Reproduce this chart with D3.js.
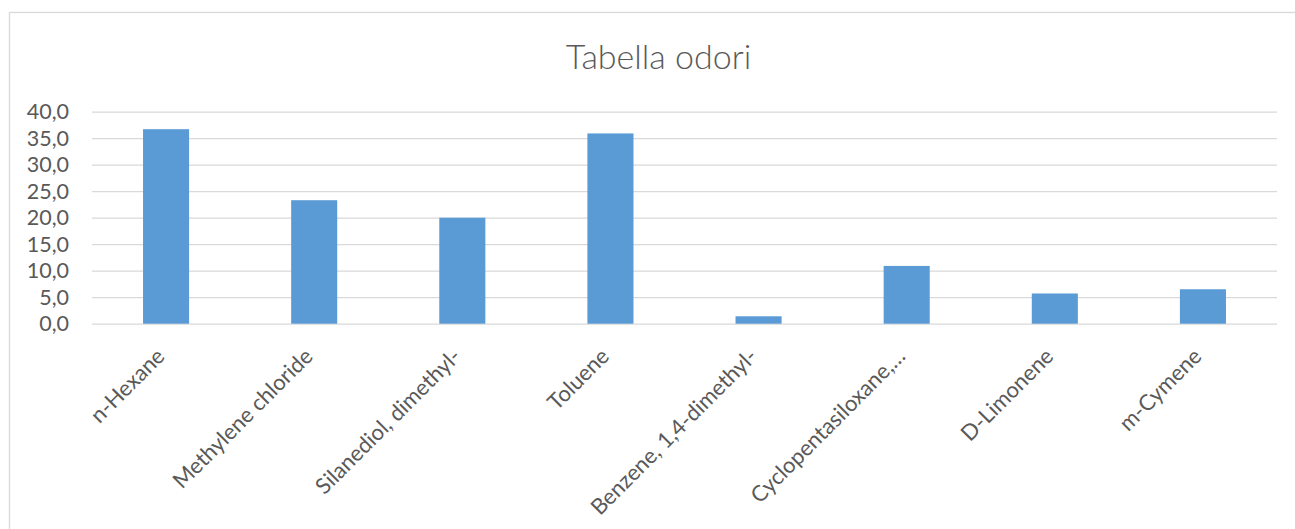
<!DOCTYPE html>
<html>
<head>
<meta charset="utf-8">
<script src="https://cdn.jsdelivr.net/npm/d3@7"></script>
<style>
  html, body { margin: 0; padding: 0; background: #fff; }
  svg { display: block; }
  text { font-family: Lato, "Open Sans", sans-serif; fill: #595959; }
</style>
</head>
<body>
<svg id="chart" width="1295" height="529"></svg>
<script>
// Odour compounds and their measured values
const categories = [
  "n-Hexane",
  "Methylene chloride",
  "Silanediol, dimethyl-",
  "Toluene",
  "Benzene, 1,4-dimethyl-",
  "Cyclopentasiloxane,…",
  "D-Limonene",
  "m-Cymene"
];
const values = [36.7, 23.3, 20.0, 35.9, 1.4, 10.9, 5.7, 6.5];
const yTicks = [0, 5, 10, 15, 20, 25, 30, 35, 40];
const title = "Tabella odori";

const W = 1295, H = 529;
const plot = { left: 92, right: 1277, top: 111.7, bottom: 323.7 };

const svg = d3.select("#chart");

svg.append("rect")
  .attr("width", W).attr("height", H).attr("fill", "#fff");

// chart area frame
svg.append("rect")
  .attr("x", 9.5).attr("y", 12.5)
  .attr("width", W + 10).attr("height", H + 10)
  .attr("fill", "none")
  .attr("stroke", "#D9D9D9")
  .attr("stroke-width", 1.3);

const x = d3.scaleBand()
  .domain(categories)
  .range([plot.left, plot.right])
  .paddingInner(0.689)
  .paddingOuter(0.689 / 2);

const y = d3.scaleLinear()
  .domain([0, 40])
  .range([plot.bottom, plot.top]);

const fmt = v => d3.format(".1f")(v).replace(".", ",");

// horizontal gridlines and value labels
const yAxis = d3.axisLeft(y)
  .tickValues(yTicks)
  .tickSize(-(plot.right - plot.left))
  .tickPadding(23)
  .tickFormat(fmt);

const gy = svg.append("g")
  .attr("transform", `translate(${plot.left},0)`)
  .call(yAxis);
gy.select(".domain").remove();
gy.selectAll(".tick line")
  .attr("stroke", "#D9D9D9")
  .attr("stroke-width", 1.3);
gy.selectAll(".tick text")
  .attr("font-size", 21.5)
  .attr("fill", "#595959")
  .attr("font-family", "Lato, 'Open Sans', sans-serif");

// bars
svg.append("g")
  .selectAll("rect")
  .data(categories.map((c, i) => ({ c, v: values[i] })))
  .join("rect")
  .attr("x", d => x(d.c))
  .attr("width", x.bandwidth())
  .attr("y", d => y(d.v))
  .attr("height", d => y(0) - y(d.v))
  .attr("fill", "#5B9BD5");

// category labels, rotated
const xAxis = d3.axisBottom(x).tickSize(0).tickFormat(d => d);
const gx = svg.append("g")
  .attr("transform", `translate(0,${plot.bottom})`)
  .call(xAxis);
gx.select(".domain").remove();
gx.selectAll(".tick text")
  .attr("font-size", 22)
  .attr("fill", "#595959")
  .attr("font-family", "Lato, 'Open Sans', sans-serif")
  .attr("text-anchor", "end")
  .attr("dy", null)
  .attr("y", null)
  .attr("transform", "translate(0,34) rotate(-45)");

// title
svg.append("text")
  .attr("x", (plot.left + plot.right) / 2 - 26)
  .attr("y", 69)
  .attr("text-anchor", "middle")
  .attr("font-size", 34)
  .attr("font-weight", 300)
  .attr("fill", "#595959")
  .text(title);
</script>
</body>
</html>
